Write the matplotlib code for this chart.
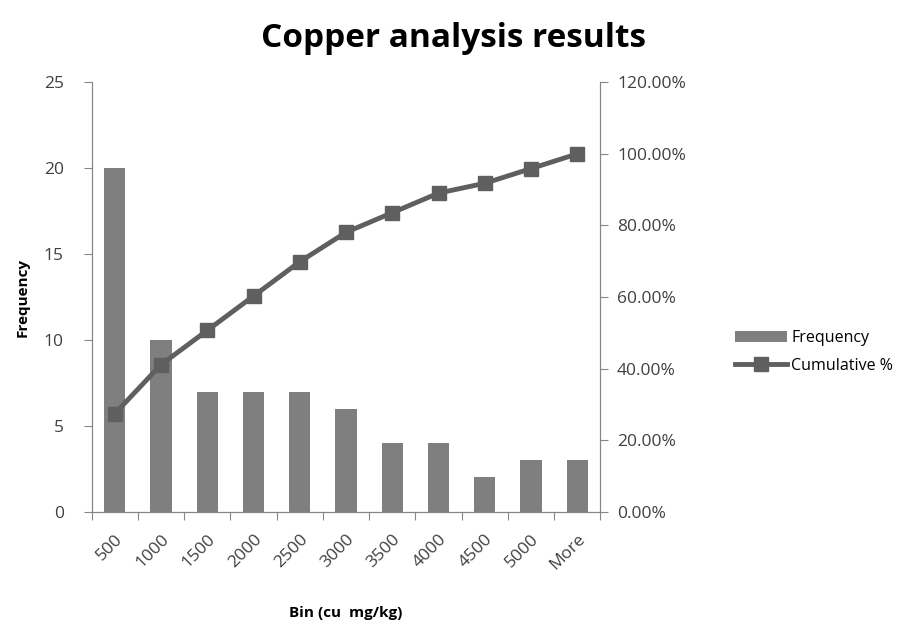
import matplotlib.pyplot as plt
from matplotlib.ticker import FuncFormatter, FixedLocator
import numpy as np

plt.rcParams['font.family'] = ['Open Sans', 'DejaVu Sans']

bins = ['500', '1000', '1500', '2000', '2500', '3000', '3500', '4000', '4500', '5000', 'More']
frequency = [20, 10, 7, 7, 7, 6, 4, 4, 2, 3, 3]
cumulative_pct = [27.40, 41.10, 50.68, 60.27, 69.86, 78.08, 83.56, 89.04, 91.78, 95.89, 100.00]

axis_col = '#868686'
bar_col = '#7f7f7f'
line_col = '#5f5f5f'

fig = plt.figure(figsize=(9.07, 6.28), dpi=100)
ax = fig.add_axes([0.101, 0.185, 0.561, 0.684])
ax2 = ax.twinx()

x = np.arange(len(bins))
bars = ax.bar(x, frequency, width=0.46, color=bar_col, label='Frequency', zorder=2)
line, = ax2.plot(x, cumulative_pct, color=line_col, linewidth=3.5, marker='s',
                 markersize=10, markerfacecolor=line_col, markeredgecolor=line_col,
                 label='Cumulative %', zorder=3)

ax.set_xlim(-0.5, len(bins) - 0.5)
ax.set_ylim(0, 25)
ax.set_yticks(range(0, 26, 5))
ax2.set_ylim(0, 120)
ax2.set_yticks(range(0, 121, 20))
ax2.yaxis.set_major_formatter(FuncFormatter(lambda v, p: f'{v:.2f}%'))

# ticks on the category boundaries, labels in the middle
ax.xaxis.set_major_locator(FixedLocator(np.arange(-0.5, len(bins), 1.0)))
ax.xaxis.set_minor_locator(FixedLocator(x))
ax.set_xticklabels([''] * (len(bins) + 1))
ax.set_xticklabels(bins, minor=True, rotation=45, ha='right', va='top',
                   rotation_mode='anchor', fontsize=12.5, color='#404040')
ax.tick_params(axis='x', which='minor', length=0, pad=14)
ax.tick_params(axis='x', which='major', length=6, color=axis_col, direction='out')

ax.tick_params(axis='y', labelsize=12.5, colors='#404040', length=6, color=axis_col, pad=14)
ax2.tick_params(axis='y', labelsize=12.5, colors='#404040', length=6, color=axis_col, pad=6)
for a in (ax, ax2):
    a.tick_params(axis='y', color=axis_col)
    a.spines['top'].set_visible(False)
    for s in ('left', 'right', 'bottom'):
        a.spines[s].set_color(axis_col)

ax.set_xlabel('Bin (cu  mg/kg)', fontsize=11, fontweight='bold', labelpad=24)
ax.set_ylabel('Frequency', fontsize=11, fontweight='bold', labelpad=10)

fig.suptitle('Copper analysis results', x=0.5, y=0.965, fontsize=24, fontweight='bold')

fig.legend([bars, line], ['Frequency', 'Cumulative %'], loc='center left',
           bbox_to_anchor=(0.795, 0.44), frameon=False, fontsize=11.5,
           handlelength=3.2, labelspacing=0.75, handletextpad=0.3)

plt.savefig('out.png', dpi=100)
plt.close()
